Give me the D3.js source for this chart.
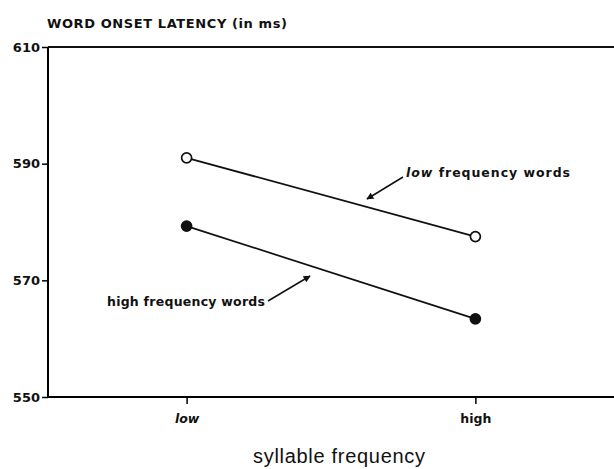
<!DOCTYPE html>
<html>
<head>
<meta charset="utf-8">
<script src="https://cdn.jsdelivr.net/npm/d3@7"></script>
<style>
  body { margin: 0; background: #fff; }
  text { font-family: "DejaVu Sans", sans-serif; fill: #111; }
</style>
</head>
<body>
<script>
// syllable frequency conditions and mean word onset latencies (ms)
var conditions = ["low", "high"];
var lowFreqWords = [591, 577.5];
var highFreqWords = [579.3, 563.4];
var yTicks = [550, 570, 590, 610];

var width = 614, height = 469;
var margin = {top: 47, right: 0, bottom: 70, left: 48};

var svg = d3.select("body").append("svg")
  .attr("width", width)
  .attr("height", height);

var x = d3.scalePoint()
  .domain(conditions)
  .range([margin.left, width - margin.right])
  .padding(0.48);

var y = d3.scaleLinear()
  .domain([550, 610])
  .range([height - margin.bottom - 2, margin.top]);

// title
svg.append("text")
  .attr("x", 47)
  .attr("y", 28)
  .attr("textLength", 240)
  .attr("lengthAdjust", "spacing")
  .style("font-size", "13px")
  .style("font-weight", "bold")
  .text("WORD ONSET LATENCY (in ms)");

// y axis
var yAxis = svg.append("g")
  .attr("transform", "translate(" + margin.left + ",0)")
  .call(d3.axisLeft(y).tickValues(yTicks).tickSize(6).tickPadding(2));
yAxis.select(".domain").attr("stroke-width", 2).attr("d", "M0," + y(610) + "V" + y(550));
yAxis.selectAll(".tick line").attr("stroke-width", 1.5);
yAxis.selectAll(".tick text")
  .style("font-size", "13px")
  .style("font-weight", "bold")
  .style("font-family", "'DejaVu Sans', sans-serif");

// x axis
var xAxis = svg.append("g")
  .attr("transform", "translate(0," + y(550) + ")")
  .call(d3.axisBottom(x).tickSize(7).tickPadding(10));
xAxis.select(".domain").attr("stroke-width", 2).attr("d", "M" + margin.left + ",0H" + width);
xAxis.selectAll(".tick line").attr("stroke-width", 1.5);
xAxis.selectAll(".tick text")
  .style("font-size", "12.5px")
  .style("font-family", "'DejaVu Sans', sans-serif")
  .style("font-style", function(d) { return d == "low" ? "italic" : "normal"; })
  .style("font-weight", "bold");

// top frame line
svg.append("line")
  .attr("x1", margin.left).attr("x2", width)
  .attr("y1", y(610)).attr("y2", y(610))
  .attr("stroke", "#111").attr("stroke-width", 2);

// x axis title
svg.append("text")
  .attr("x", 339)
  .attr("y", 463)
  .attr("text-anchor", "middle")
  .attr("textLength", 172)
  .attr("lengthAdjust", "spacing")
  .style("font-family", "'Liberation Sans', Arial, sans-serif")
  .style("font-size", "20px")
  .text("syllable frequency");

var line = d3.line()
  .x(function(d, i) { return x(conditions[i]); })
  .y(function(d) { return y(d); });

[lowFreqWords, highFreqWords].forEach(function(series, k) {
  svg.append("path")
    .datum(series)
    .attr("d", line)
    .attr("fill", "none")
    .attr("stroke", "#111")
    .attr("stroke-width", 1.7);

  svg.selectAll(".pt" + k)
    .data(series)
    .enter().append("circle")
    .attr("class", "pt" + k)
    .attr("cx", function(d, i) { return x(conditions[i]); })
    .attr("cy", function(d) { return y(d); })
    .attr("r", 5)
    .attr("fill", k == 0 ? "#fff" : "#111")
    .attr("stroke", "#111")
    .attr("stroke-width", 1.7);
});

// arrowhead
svg.append("defs").append("marker")
  .attr("id", "arrow")
  .attr("viewBox", "0 0 10 10")
  .attr("refX", 9).attr("refY", 5)
  .attr("markerWidth", 9).attr("markerHeight", 7)
  .attr("markerUnits", "userSpaceOnUse")
  .attr("orient", "auto")
  .append("path")
  .attr("d", "M0,0L10,5L0,10z")
  .attr("fill", "#111");

// series labels with arrows
svg.append("text")
  .attr("x", 406).attr("y", 177)
  .attr("textLength", 164)
  .attr("lengthAdjust", "spacing")
  .style("font-size", "12.5px")
  .style("font-weight", "bold")
  .html("<tspan style='font-style:italic'>low</tspan> frequency words");
svg.append("line")
  .attr("x1", 403).attr("y1", 177)
  .attr("x2", 367).attr("y2", 199)
  .attr("stroke", "#111").attr("stroke-width", 1.5)
  .attr("marker-end", "url(#arrow)");

svg.append("text")
  .attr("x", 107).attr("y", 306)
  .attr("textLength", 158)
  .attr("lengthAdjust", "spacing")
  .style("font-size", "12.5px")
  .style("font-weight", "bold")
  .text("high frequency words");
svg.append("line")
  .attr("x1", 268).attr("y1", 301)
  .attr("x2", 310).attr("y2", 276)
  .attr("stroke", "#111").attr("stroke-width", 1.5)
  .attr("marker-end", "url(#arrow)");
</script>
</body>
</html>
